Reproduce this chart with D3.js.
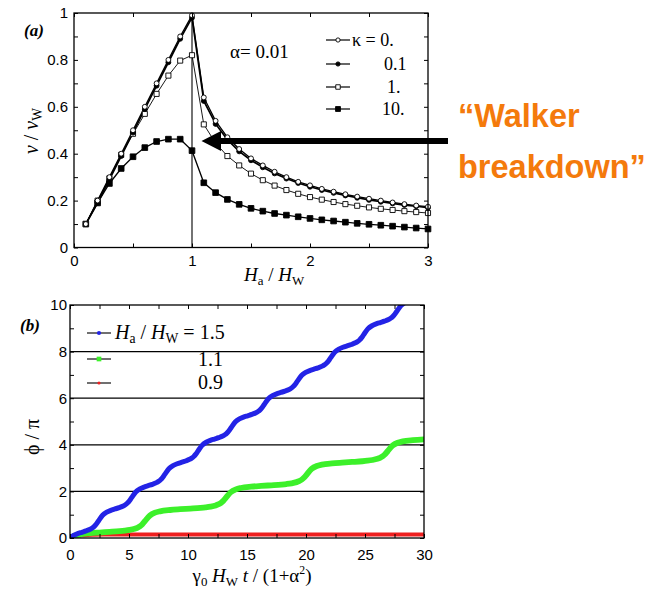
<!DOCTYPE html>
<html><head><meta charset="utf-8">
<script src="https://cdn.jsdelivr.net/npm/d3@7"></script>
<style>body{margin:0;background:#fff}svg{display:block}</style>
</head><body>
<svg id="c" width="654" height="589"></svg>
<script>
// ---------- Panel (a) data ----------
const fieldRatio = [0.1,0.2,0.3,0.4,0.5,0.6,0.7,0.8,0.9,1.0,1.1,1.2,1.3,1.4,1.5,1.6,1.7,1.8,1.9,2.0,2.1,2.2,2.3,2.4,2.5,2.6,2.7,2.8,2.9,3.0];
const velKappa0   = [0.10,0.20,0.30,0.40,0.50,0.60,0.70,0.80,0.90,0.99,0.64,0.54,0.47,0.42,0.38,0.35,0.323,0.30,0.28,0.265,0.25,0.238,0.227,0.217,0.208,0.20,0.192,0.185,0.179,0.174];
const velKappa01  = [0.10,0.19,0.29,0.39,0.49,0.59,0.69,0.79,0.89,0.98,0.625,0.527,0.46,0.41,0.372,0.342,0.316,0.294,0.275,0.259,0.245,0.233,0.222,0.212,0.203,0.195,0.188,0.181,0.176,0.170];
const velKappa1   = [0.10,0.20,0.295,0.395,0.485,0.57,0.655,0.733,0.797,0.82,0.525,0.445,0.39,0.35,0.315,0.287,0.264,0.245,0.229,0.215,0.204,0.194,0.185,0.178,0.171,0.165,0.160,0.155,0.151,0.147];
const velKappa10  = [0.10,0.19,0.273,0.337,0.387,0.426,0.452,0.462,0.462,0.413,0.276,0.234,0.205,0.184,0.167,0.155,0.145,0.138,0.131,0.124,0.118,0.113,0.108,0.103,0.099,0.095,0.091,0.087,0.083,0.079];
const kappaLabels = ["0.", "0.1", "1.", "10."];
const xTicksA = [0,1,2,3];
const xMinorA = [0.5,1.5,2.5];
const yTicksA = [0,0.2,0.4,0.6,0.8,1];
const yMinorA = [0.1,0.3,0.5,0.7,0.9];

// ---------- Panel (b) data: [time, phi/pi] ----------
const phiH15 = [[0,0],[0.302,0.109],[0.653,0.187],[1.004,0.246],[1.355,0.304],[1.707,0.377],[1.882,0.429],[2.058,0.5],
[2.233,0.600],[2.409,0.730],[2.760,0.975],[3.112,1.109],[3.463,1.187],[3.814,1.246],[4.165,1.304],[4.517,1.377],[4.692,1.429],[4.868,1.5],
[5.043,1.600],[5.219,1.730],[5.570,1.975],[5.922,2.109],[6.273,2.187],[6.624,2.246],[6.975,2.304],[7.327,2.377],[7.502,2.429],[7.678,2.5],
[7.853,2.600],[8.029,2.730],[8.380,2.975],[8.732,3.109],[9.083,3.187],[9.434,3.246],[9.785,3.304],[10.137,3.377],[10.312,3.429],[10.488,3.5],
[10.663,3.600],[10.839,3.730],[11.190,3.975],[11.542,4.109],[11.893,4.187],[12.244,4.246],[12.595,4.304],[12.947,4.377],[13.122,4.429],[13.298,4.5],
[13.473,4.600],[13.649,4.730],[14.000,4.975],[14.352,5.109],[14.703,5.187],[15.054,5.246],[15.405,5.304],[15.757,5.377],[15.932,5.429],[16.108,5.5],
[16.283,5.600],[16.459,5.730],[16.810,5.975],[17.162,6.109],[17.513,6.187],[17.864,6.246],[18.215,6.304],[18.567,6.377],[18.742,6.429],[18.918,6.5],
[19.093,6.600],[19.269,6.730],[19.620,6.975],[19.972,7.109],[20.323,7.187],[20.674,7.246],[21.025,7.304],[21.377,7.377],[21.552,7.429],[21.728,7.5],
[21.903,7.600],[22.079,7.730],[22.430,7.975],[22.782,8.109],[23.133,8.187],[23.484,8.246],[23.835,8.304],[24.187,8.377],[24.362,8.429],[24.538,8.5],
[24.713,8.600],[24.889,8.730],[25.240,8.975],[25.592,9.109],[25.943,9.187],[26.294,9.246],[26.645,9.304],[26.997,9.377],[27.172,9.429],[27.348,9.5],
[27.523,9.600],[27.699,9.730],[28.050,9.975],[28.402,10.109],[28.753,10.187]];
const phiH11 = [[0,0],[0.348,0.089],[0.776,0.146],[1.633,0.202],[2.490,0.235],[3.347,0.263],[4.204,0.294],[4.632,0.316],[5.061,0.347],[5.489,0.398],[5.703,0.439],[5.918,0.5],
[6.132,0.593],[6.346,0.723],[6.775,0.969],[7.203,1.089],[7.632,1.146],[8.488,1.202],[9.345,1.235],[10.202,1.263],[11.059,1.294],[11.488,1.316],[11.916,1.347],[12.345,1.398],[12.559,1.439],[12.773,1.5],
[12.987,1.593],[13.202,1.723],[13.630,1.969],[14.059,2.089],[14.487,2.146],[15.344,2.202],[16.201,2.235],[17.058,2.263],[17.915,2.294],[18.343,2.316],[18.772,2.347],[19.200,2.398],[19.414,2.439],[19.629,2.5],
[19.843,2.593],[20.057,2.723],[20.486,2.969],[20.914,3.089],[21.343,3.146],[22.199,3.202],[23.056,3.235],[23.913,3.263],[24.770,3.294],[25.199,3.316],[25.627,3.347],[26.056,3.398],[26.270,3.439],[26.484,3.5],
[26.698,3.593],[26.913,3.723],[27.341,3.969],[27.770,4.089],[28.198,4.146],[29.055,4.202],[30,4.237]];
const phiH09 = [[0,0],[0.25,0.048],[0.5,0.078],[1,0.111],[1.5,0.128],[2,0.137],[3,0.146],[4,0.150],[6,0.151],[10,0.151],[20,0.151],[30,0.151]];
const fieldLabelsB = ["1.5","1.1","0.9"];
const xTicksB = [0,5,10,15,20,25,30];
const xMinorB = [2.5,7.5,12.5,17.5,22.5,27.5];
const yTicksB = [0,2,4,6,8,10];
const yMinorB = [1,3,5,7,9];
const gridB = [2,4,6,8];

const SERIF = "'Liberation Serif','Times New Roman',serif";
const SANS = "'Liberation Sans',Arial,Helvetica,sans-serif";
const svg = d3.select("#c");

function rich(sel, parts) {
  parts.forEach(p => {
    const [txt, o = {}] = p;
    const t = sel.append("tspan").text(txt);
    if (o.italic) t.attr("font-style","italic");
    if (o.sub) t.attr("font-size", o.size || "0.68em").attr("dy", o.dy || 4);
    if (o.sup) t.attr("font-size", o.size || "0.62em").attr("dy", o.dy || -7);
    if (o.back) t.attr("dy", o.back);
  });
}

function axes(g, x, y, xAll, xLab, yAll, yLab, fmtX, fmtY, padX, padY, fs) {
  const isMaj = (arr, d) => arr.some(v => Math.abs(v - d) < 1e-9);
  const [yb, yt] = y.range();
  const [xl, xr] = x.range();
  const b = g.append("g").attr("transform", `translate(0,${yb})`)
    .call(d3.axisBottom(x).tickValues(xAll).tickSize(-4).tickPadding(padX)
      .tickFormat(d => isMaj(xLab,d) ? fmtX(d) : ""));
  const t = g.append("g").attr("transform", `translate(0,${yt})`)
    .call(d3.axisTop(x).tickValues(xAll).tickSize(-4).tickFormat(""));
  const l = g.append("g").attr("transform", `translate(${xl},0)`)
    .call(d3.axisLeft(y).tickValues(yAll).tickSize(-4).tickPadding(padY)
      .tickFormat(d => isMaj(yLab,d) ? fmtY(d) : ""));
  const r = g.append("g").attr("transform", `translate(${xr},0)`)
    .call(d3.axisRight(y).tickValues(yAll).tickSize(-4).tickFormat(""));
  [b,t,l,r].forEach(a => {
    a.select(".domain").remove();
    a.selectAll("line").attr("stroke","#000").attr("stroke-width",1);
    a.selectAll("text").attr("font-family", SANS).attr("font-size", fs).attr("fill","#000");
  });
  g.append("rect").attr("x", xl).attr("y", yt).attr("width", xr - xl).attr("height", yb - yt)
    .attr("fill","none").attr("stroke","#000").attr("stroke-width",1.3);
}

// ================= Panel (a) =================
const xa = d3.scaleLinear([0,3],[74,428]);
const ya = d3.scaleLinear([0,1],[247.5,13]);
const ga = svg.append("g");

ga.append("line").attr("x1", xa(1)).attr("x2", xa(1)).attr("y1", ya(0)).attr("y2", ya(1))
  .attr("stroke","#000").attr("stroke-width",1.1);

const seriesA = [
  {v: velKappa10, sym: d3.symbolSquare, size: 32, fill: "#000", lw: 1.3},
  {v: velKappa1,  sym: d3.symbolSquare, size: 26, fill: "#fff", lw: 0.9},
  {v: velKappa01, sym: d3.symbolCircle, size: 19, fill: "#000", lw: 1.7},
  {v: velKappa0,  sym: d3.symbolCircle, size: 19, fill: "#fff", lw: 1.3}
];
const lineA = d3.line().x(d => xa(d[0])).y(d => ya(d[1]));
seriesA.forEach(s => {
  const pts = fieldRatio.map((h,i) => [h, s.v[i]]);
  ga.append("path").attr("d", lineA(pts)).attr("fill","none").attr("stroke","#000").attr("stroke-width", s.lw);
});
seriesA.forEach(s => {
  const pts = fieldRatio.map((h,i) => [h, s.v[i]]);
  ga.selectAll(null).data(pts).join("path")
    .attr("transform", d => `translate(${xa(d[0])},${ya(d[1])})`)
    .attr("d", d3.symbol(s.sym, s.size))
    .attr("fill", s.fill).attr("stroke","#000").attr("stroke-width",0.9);
});

axes(ga, xa, ya, xTicksA.concat(xMinorA), xTicksA, yTicksA.concat(yMinorA), yTicksA,
  d => String(d), d => String(d), 8, 6, 15);

// legend (a)
const legA = [
  {sym: d3.symbolCircle, size: 14, fill: "#fff"},
  {sym: d3.symbolCircle, size: 14, fill: "#000"},
  {sym: d3.symbolSquare, size: 20, fill: "#fff"},
  {sym: d3.symbolSquare, size: 24, fill: "#000"}
];
const legAy = [40, 64, 87, 109];
const legAx = [null, 384, 387, 382];
legA.forEach((m,i) => {
  ga.append("line").attr("x1",326).attr("x2",350).attr("y1",legAy[i]).attr("y2",legAy[i])
    .attr("stroke","#000").attr("stroke-width",1.2);
  ga.append("path").attr("transform",`translate(338,${legAy[i]})`).attr("d", d3.symbol(m.sym, m.size))
    .attr("fill", m.fill).attr("stroke","#000").attr("stroke-width",0.9);
  const t = ga.append("text").attr("font-family", SERIF).attr("font-size", 18).attr("y", legAy[i] + 6);
  if (i === 0) { t.attr("x", 352).text("\u03BA = " + kappaLabels[0]); }
  else { t.attr("x", legAx[i]).text(kappaLabels[i]); }
});

ga.append("text").attr("x",230).attr("y",58).attr("font-family",SERIF).attr("font-size",19).text("\u03B1= 0.01");
ga.append("text").attr("x",24).attr("y",36).attr("font-family",SERIF).attr("font-size",17)
  .attr("font-weight","bold").attr("font-style","italic").text("(a)");

const ylabA = ga.append("text").attr("transform","translate(38,131) rotate(-90)")
  .attr("text-anchor","middle").attr("font-family",SERIF).attr("font-size",20);
rich(ylabA, [["v",{italic:true}],[" / "],["v",{italic:true}],["W",{sub:true,dy:4}]]);
const xlabA = ga.append("text").attr("x",274).attr("y",281)
  .attr("text-anchor","middle").attr("font-family",SERIF).attr("font-size",19);
rich(xlabA, [["H",{italic:true}],["a",{sub:true,dy:4}],[" / ",{back:-4}],["H",{italic:true}],["W",{sub:true,dy:4}]]);

// arrow + annotation
ga.append("path")
  .attr("d", `M448,138 L221,138 L221,131 L201.5,141 L221,151 L221,144 L448,144 Z`)
  .attr("fill","#000");
const ann = ga.append("g").attr("font-family",SANS).attr("font-weight","bold").attr("font-size",32.5).attr("fill","#f47a0c");
ann.append("text").attr("x",458).attr("y",127).text("\u201CWalker");
ann.append("text").attr("x",458).attr("y",178).text("breakdown\u201D");

// ================= Panel (b) =================
const xb = d3.scaleLinear([0,30],[70,424]);
const yb = d3.scaleLinear([0,10],[538,305]);
const gb = svg.append("g");

gb.append("clipPath").attr("id","clipB").append("rect")
  .attr("x",70).attr("y",305).attr("width",354).attr("height",233);

gb.selectAll(null).data(gridB).join("line")
  .attr("x1",xb(0)).attr("x2",xb(30)).attr("y1",d=>yb(d)).attr("y2",d=>yb(d))
  .attr("stroke","#000").attr("stroke-width",1.2);

const lineB = d3.line().x(d => xb(d[0])).y(d => yb(d[1])).curve(d3.curveMonotoneX);
const seriesB = [
  {d: phiH09, c: "#ee2020", w: 3.8},
  {d: phiH11, c: "#3cf02a", w: 5.8},
  {d: phiH15, c: "#2323e6", w: 5}
];
const plotB = gb.append("g").attr("clip-path","url(#clipB)");
seriesB.forEach(s => {
  plotB.append("path").attr("d", lineB(s.d)).attr("fill","none").attr("stroke",s.c)
    .attr("stroke-width",s.w).attr("stroke-linejoin","round").attr("stroke-linecap","round");
});

axes(gb, xb, yb, xTicksB.concat(xMinorB), xTicksB, yTicksB.concat(yMinorB), yTicksB,
  d => String(d), d => String(d), 11, 3, 15);

// legend (b)
const legBy = [333, 359, 383];
const legBc = ["#2323e6", "#3cf02a", "#ee2020"];
const legBsym = [d3.symbolCircle, d3.symbolSquare, d3.symbolCircle];
const legBsz = [14, 22, 8];
legBy.forEach((y,i) => {
  gb.append("line").attr("x1",87).attr("x2",111).attr("y1",y).attr("y2",y).attr("stroke","#222").attr("stroke-width",1.3);
  gb.append("path").attr("transform",`translate(99,${y})`).attr("d", d3.symbol(legBsym[i], legBsz[i])).attr("fill",legBc[i]);
});
const lb0 = gb.append("text").attr("x",115).attr("y",339).attr("font-family",SERIF).attr("font-size",20);
rich(lb0, [["H",{italic:true}],["a",{sub:true,dy:4}],[" / ",{back:-4}],["H",{italic:true}],["W",{sub:true,dy:4}],[" = " + fieldLabelsB[0],{back:-4}]]);
gb.append("text").attr("x",198).attr("y",366).attr("font-family",SERIF).attr("font-size",20).text(fieldLabelsB[1]);
gb.append("text").attr("x",198).attr("y",389).attr("font-family",SERIF).attr("font-size",20).text(fieldLabelsB[2]);

gb.append("text").attr("x",20).attr("y",331).attr("font-family",SERIF).attr("font-size",17)
  .attr("font-weight","bold").attr("font-style","italic").text("(b)");

gb.append("text").attr("transform","translate(39,437) rotate(-90)")
  .attr("text-anchor","middle").attr("font-family",SERIF).attr("font-size",20).text("\u03D5 / \u03C0");
const xlabB = gb.append("text").attr("x",252).attr("y",582)
  .attr("text-anchor","middle").attr("font-family",SERIF).attr("font-size",19);
rich(xlabB, [["\u03B3"],["0",{sub:true,dy:4}],[" ",{back:-4}],["H",{italic:true}],["W",{sub:true,dy:4}],[" ",{back:-4}],["t",{italic:true}],[" / (1+\u03B1"],["2",{sup:true,dy:-8}],[")",{back:8}]]);
</script>
</body></html>
